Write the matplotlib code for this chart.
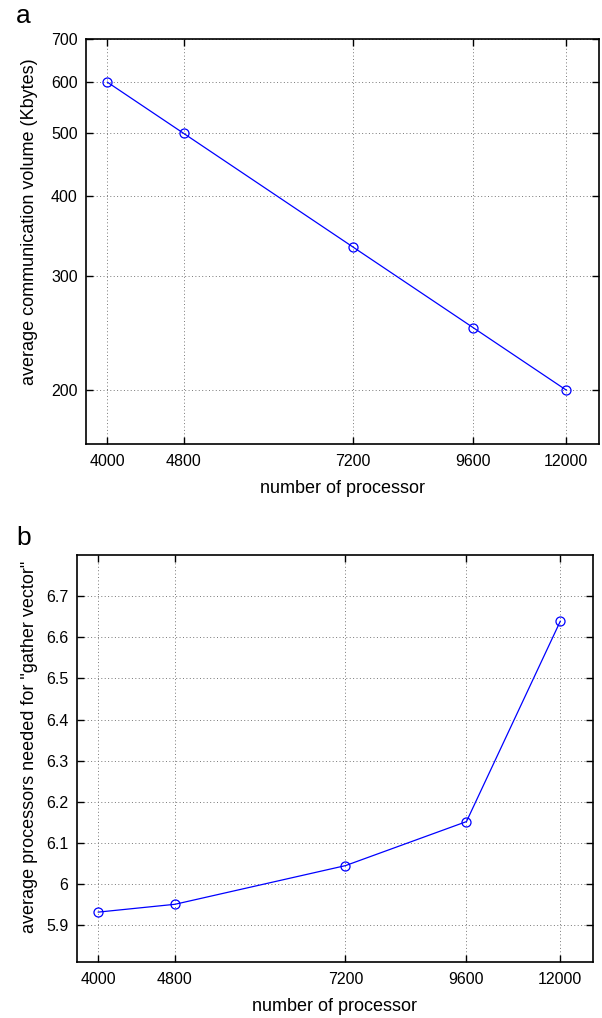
import matplotlib
matplotlib.use("Agg")
import matplotlib.pyplot as plt
from matplotlib.ticker import FixedLocator, NullLocator, FixedFormatter

plt.rcParams['font.family'] = ['Liberation Sans', 'DejaVu Sans']

# Data
processors = [4000, 4800, 7200, 9600, 12000]
comm_volume = [600, 500, 333.3, 250, 200]           # Kbytes
gather_procs = [5.932, 5.951, 6.045, 6.152, 6.639]

x_ticks = [4000, 4800, 7200, 9600, 12000]
x_tick_labels = ['4000', '4800', '7200', '9600', '12000']
ya_ticks = [200, 300, 400, 500, 600, 700]
ya_tick_labels = ['200', '300', '400', '500', '600', '700']
yb_ticks = [5.9, 6.0, 6.1, 6.2, 6.3, 6.4, 6.5, 6.6, 6.7]
yb_tick_labels = ['5.9', '6', '6.1', '6.2', '6.3', '6.4', '6.5', '6.6', '6.7']

W, H = 602, 1018
fig = plt.figure(figsize=(W / 100, H / 100), dpi=100)

ax_a = fig.add_axes([86 / W, 1 - 444 / H, (599 - 86) / W, (444 - 39) / H])
ax_b = fig.add_axes([76.7 / W, 1 - 962.3 / H, (593.3 - 76.7) / W, (962.3 - 555) / H])

grid_kw = dict(color='#777777', linestyle=(0, (1, 2.5)), linewidth=0.7)

def style(ax):
    ax.set_xscale('log')
    ax.set_xlim(3800, 12980)
    ax.xaxis.set_major_locator(FixedLocator(x_ticks))
    ax.xaxis.set_major_formatter(FixedFormatter(x_tick_labels))
    ax.xaxis.set_minor_locator(NullLocator())
    ax.tick_params(axis='both', which='major', direction='in', length=5, width=1,
                   top=True, right=True, labelsize=11.5, pad=6)
    ax.tick_params(axis='x', which='major', pad=7)
    ax.tick_params(axis='both', which='minor', length=0)
    for s in ax.spines.values():
        s.set_linewidth(1.2)
    ax.grid(True, which='major', **grid_kw)
    ax.set_axisbelow(True)
    ax.set_xlabel('number of processor', fontsize=13, labelpad=8)

line_kw = dict(color='#0000ff', linewidth=0.9, marker='o', markersize=6.5,
               markerfacecolor='none', markeredgecolor='#0000ff', markeredgewidth=0.9)

# Panel a
ax_a.plot(processors, comm_volume, **line_kw)
style(ax_a)
ax_a.set_yscale('log')
ax_a.set_ylim(165, 700)
ax_a.yaxis.set_major_locator(FixedLocator(ya_ticks))
ax_a.yaxis.set_major_formatter(FixedFormatter(ya_tick_labels))
ax_a.yaxis.set_minor_locator(NullLocator())
ax_a.set_ylabel('average communication volume (Kbytes)', fontsize=13, labelpad=8)
ax_a.yaxis.set_label_coords(-0.094, 0.548)

# Panel b
ax_b.plot(processors, gather_procs, **line_kw)
style(ax_b)
ax_b.set_ylim(5.81, 6.8)
ax_b.yaxis.set_major_locator(FixedLocator(yb_ticks))
ax_b.yaxis.set_major_formatter(FixedFormatter(yb_tick_labels))
ax_b.set_ylabel('average processors needed for "gather vector"', fontsize=13, labelpad=8)
ax_b.yaxis.set_label_coords(-0.075, 0.529)

fig.text(16 / W, 1 - 23 / H, 'a', fontsize=19, ha='left', va='baseline')
fig.text(16 / W, 1 - 545 / H, 'b', fontsize=19, ha='left', va='baseline')

fig.savefig('out.png', dpi=100)
